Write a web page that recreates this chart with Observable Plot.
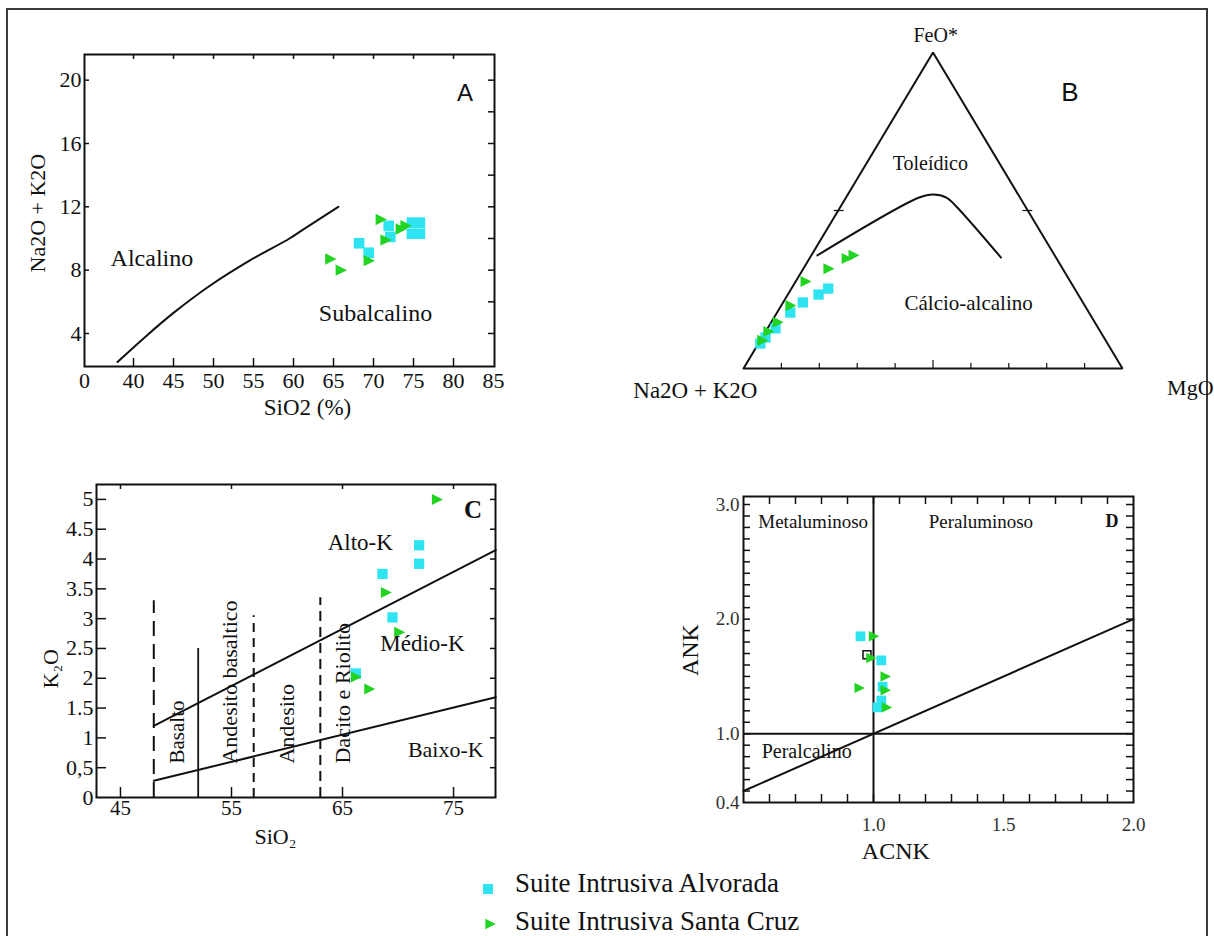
<!DOCTYPE html>
<html>
<head>
<meta charset="utf-8">
<script src="https://cdn.jsdelivr.net/npm/d3@7"></script>
<script src="https://cdn.jsdelivr.net/npm/@observablehq/plot@0.6"></script>
<style>
  body { margin: 0; background: #fff; }
  #fig { position: relative; width: 1214px; height: 936px; overflow: hidden; background: #fff; }
  #border { position: absolute; left: 6px; top: 8px; width: 1202px; height: 1000px; border: 2px solid #3a3a3a; box-sizing: border-box; }
  #fig svg.serif text { font-family: "Liberation Serif", "Times New Roman", serif; }
  #fig svg.sansfont text { font-family: "Liberation Sans", Arial, sans-serif; }
</style>
</head>
<body>
<div id="fig"><div id="border"></div></div>
<script>
// ---------------- DATA ----------------
const seriesNames = ["Suite Intrusiva Alvorada", "Suite Intrusiva Santa Cruz"];

// Panel A: SiO2 vs Na2O+K2O
const aBoundarySiO2 = [38.0, 41.5, 45.0, 49.5, 54.5, 59.5, 61.0, 65.6];
const aBoundaryAlk  = [2.2, 3.8, 5.3, 7.0, 8.6, 10.0, 10.5, 12.0];
const aAlvoradaSiO2 = [68.2, 69.4, 71.9, 72.1, 74.8, 75.8, 74.8, 75.8];
const aAlvoradaAlk  = [9.7, 9.1, 10.8, 10.1, 11.0, 11.0, 10.3, 10.3];
const aSantaCruzSiO2 = [64.6, 65.9, 69.4, 70.9, 71.5, 73.4, 74.0];
const aSantaCruzAlk  = [8.7, 8.0, 8.6, 11.2, 9.9, 10.6, 10.8];
const aXTicks = [40, 45, 50, 55, 60, 65, 70, 75, 80, 85];
const aYTicks = [4, 8, 12, 16, 20];
const aRightTicks = [4, 6, 8, 10, 12, 14, 16, 18, 20];
const aRegions = ["Alcalino", "Subalcalino"];

// Panel B: AFM ternary (percent Na2O+K2O, FeO*, MgO)
const bAlvoradaA = [65.0, 68.5, 73.9, 78.8, 85.2, 89.3, 91.6];
const bAlvoradaF = [25.3, 23.4, 20.9, 17.7, 12.7, 9.8, 7.9];
const bAlvoradaM = [9.7, 8.1, 5.2, 3.5, 2.1, 0.9, 0.5];
const bSantaCruzA = [53.1, 55.4, 61.8, 69.9, 77.7, 83.7, 87.6, 90.6];
const bSantaCruzF = [35.8, 34.8, 31.6, 27.5, 19.9, 14.6, 11.7, 8.9];
const bSantaCruzM = [11.1, 9.8, 6.6, 2.6, 2.4, 1.7, 0.7, 0.5];
const bBoundaryA = [62.6, 26.6, 22.4, 19.4, 18.3, 14.5];
const bBoundaryF = [35.8, 54.1, 55.1, 54.1, 51.6, 35.1];
const bBoundaryM = [1.6, 19.3, 22.5, 26.5, 30.1, 50.4];
const bTriangleA = [100, 0, 0, 100];
const bTriangleF = [0, 0, 100, 0];
const bTriangleM = [0, 100, 0, 0];
const bBaseTicks = [10, 20, 30, 40, 50, 60, 70, 80, 90];
const bVertices = ["Na2O + K2O", "FeO*", "MgO"];
const bRegions = ["Toleídico", "Cálcio-alcalino"];

// Panel C: SiO2 vs K2O
const cUpperSiO2 = [48, 78.8], cUpperK2O = [1.2, 4.15];
const cLowerSiO2 = [48, 78.8], cLowerK2O = [0.28, 1.68];
const cDividerSiO2 = [48, 52, 57, 63];
const cDividerTop  = [3.3, 2.5, 3.05, 3.35];
const cRockNames = ["Basalto", "Andesito basaltico", "Andesito", "Dacito e Riolito"];
const cAlvoradaSiO2 = [71.9, 71.9, 68.6, 69.5, 66.2];
const cAlvoradaK2O  = [4.23, 3.92, 3.75, 3.02, 2.08];
const cSantaCruzSiO2 = [73.5, 68.9, 70.1, 66.2, 67.4];
const cSantaCruzK2O  = [5.0, 3.44, 2.77, 2.02, 1.82];
const cXTicks = [45, 55, 65, 75];
const cYTicks = [0, 0.5, 1, 1.5, 2, 2.5, 3, 3.5, 4, 4.5, 5];
const cYTickLabels = ["0", "0,5", "1", "1.5", "2", "2.5", "3", "3.5", "4", "4.5", "5"];
const cRegions = ["Alto-K", "Médio-K", "Baixo-K"];

// Panel D: ACNK vs ANK
const dDiagonalACNK = [0.5, 2.0], dDiagonalANK = [0.5, 2.0];
const dAlvoradaACNK = [0.95, 1.03, 1.035, 1.03, 1.015];
const dAlvoradaANK  = [1.85, 1.64, 1.41, 1.29, 1.23];
const dSantaCruzACNK = [1.0, 0.99, 1.045, 1.045, 0.945, 1.05];
const dSantaCruzANK  = [1.85, 1.66, 1.50, 1.38, 1.40, 1.23];
const dOtherACNK = [0.975], dOtherANK = [1.69];
const dXTicks = [1.0, 1.5, 2.0];
const dYTicks = [0.4, 1.0, 2.0, 3.0];
const dRegions = ["Metaluminoso", "Peraluminoso", "Peralcalino"];

const panelLetters = ["A", "B", "C", "D"];

// ---------------- STYLE ----------------
const serif = '"Liberation Serif", "Times New Roman", serif';
const CYAN = "#2de4f0", GREEN = "#22d322", INK = "#111";

const triRight = {
  draw(ctx, size) {
    const r = Math.sqrt(size / Math.PI);
    ctx.moveTo(1.05 * r, 0);
    ctx.lineTo(-0.85 * r, -0.95 * r);
    ctx.lineTo(-0.85 * r, 0.95 * r);
    ctx.closePath();
  }
};

const fig = document.getElementById("fig");
function place(node, left, top) {
  const d = document.createElement("div");
  d.style.position = "absolute";
  d.style.left = left + "px";
  d.style.top = top + "px";
  d.appendChild(node);
  fig.appendChild(d);
}
function baseStyle(size) {
  return {fontFamily: serif, fontSize: size + "px", color: INK, background: "transparent", overflow: "visible", maxWidth: "none"};
}
function ticksX(vals, side, len, H, sw = 1.5) {
  const o = {x: d => d, stroke: INK, strokeWidth: sw};
  o[side === "bottom" ? "insetTop" : "insetBottom"] = H - len;
  return Plot.ruleX(vals, o);
}
function ticksY(vals, side, len, W, sw = 1.5) {
  const o = {y: d => d, stroke: INK, strokeWidth: sw};
  o[side === "left" ? "insetRight" : "insetLeft"] = W - len;
  return Plot.ruleY(vals, o);
}
function squares(xs, ys, r = 6) {
  return Plot.dot(xs, {x: xs, y: ys, symbol: "square", r, fill: CYAN, stroke: "none"});
}
function triangles(xs, ys, r = 6) {
  return Plot.dot(xs, {x: xs, y: ys, symbol: triRight, r, fill: GREEN, stroke: "none"});
}
function label(t, x, y, size, extra = {}) {
  return Plot.text([t], {x, y, fontSize: size, fill: INK, ...extra});
}
function serifPlot(opts) {
  const node = Plot.plot(opts);
  node.classList.add("serif");
  node.querySelectorAll("svg").forEach(s => s.classList.add("serif"));
  return node;
}

// ---------------- PANEL A ----------------
{
  const W = 410, H = 312;
  const xMin = 33.875;
  const svg = serifPlot({
    width: 510, height: 410, marginLeft: 84, marginRight: 16, marginTop: 24, marginBottom: 74,
    x: {domain: [xMin, 85.125]}, y: {domain: [1.915, 21.62]},
    style: baseStyle(22),
    marks: [
      Plot.axisX([xMin, ...aXTicks], {tickFormat: d => d === xMin ? "0" : String(d), tickSize: 0, tickPadding: 6, fontSize: 22, label: null}),
      Plot.axisY(aYTicks, {tickSize: 0, tickPadding: 3, fontSize: 22, label: null}),
      ticksX(aXTicks.slice(0, -1), "bottom", 8, H),
      ticksX(aXTicks.slice(0, -1), "top", 5, H),
      ticksY(aYTicks, "left", 5, W),
      ticksY(aRightTicks, "right", 6, W),
      Plot.frame({stroke: INK, strokeWidth: 2}),
      Plot.line(aBoundarySiO2, {x: aBoundarySiO2, y: aBoundaryAlk, stroke: INK, strokeWidth: 2, curve: "catmull-rom"}),
      squares(aAlvoradaSiO2, aAlvoradaAlk),
      triangles(aSantaCruzSiO2, aSantaCruzAlk),
      label(aRegions[0], 42.3, 8.74, 24),
      label(aRegions[1], 70.25, 5.26, 24),
      label("Na2O + K2O", 28.0, 11.6, 22, {rotate: -90}),
      label("SiO2 (%)", 61.75, -0.7, 23)
    ]
  });
  place(svg, 0, 30);
}

// ---------------- PANEL B ----------------
{
  const H = 316;
  const tx = (A, F, M) => A.map((_, i) => (M[i] + F[i] / 2) / (A[i] + F[i] + M[i]));
  const ty = (A, F, M) => A.map((_, i) => F[i] / (A[i] + F[i] + M[i]));
  const triX = tx(bTriangleA, bTriangleF, bTriangleM), triY = ty(bTriangleA, bTriangleF, bTriangleM);
  const curX = tx(bBoundaryA, bBoundaryF, bBoundaryM), curY = ty(bBoundaryA, bBoundaryF, bBoundaryM);
  const alvX = tx(bAlvoradaA, bAlvoradaF, bAlvoradaM), alvY = ty(bAlvoradaA, bAlvoradaF, bAlvoradaM);
  const scX = tx(bSantaCruzA, bSantaCruzF, bSantaCruzM), scY = ty(bSantaCruzA, bSantaCruzF, bSantaCruzM);
  const svg = serifPlot({
    width: 594, height: 400, marginLeft: 123, marginRight: 92, marginTop: 42, marginBottom: 42,
    x: {domain: [0, 1], axis: null}, y: {domain: [0, 1], axis: null},
    style: baseStyle(21),
    marks: [
      Plot.ruleX(bBaseTicks.filter(t => t !== 50), {x: t => t / 100, insetTop: H - 5, stroke: INK, strokeWidth: 1.2}),
      Plot.ruleX([50], {x: t => t / 100, insetTop: H - 8, stroke: INK, strokeWidth: 1.2}),
      Plot.link([50], {x1: f => f / 200 - 0.012, x2: f => f / 200 + 0.014, y1: f => f / 100, y2: f => f / 100, stroke: INK, strokeWidth: 1.2}),
      Plot.link([50], {x1: f => 1 - f / 200 - 0.014, x2: f => 1 - f / 200 + 0.012, y1: f => f / 100, y2: f => f / 100, stroke: INK, strokeWidth: 1.2}),
      Plot.line(triX, {x: triX, y: triY, stroke: INK, strokeWidth: 2, strokeLinejoin: "miter"}),
      Plot.line(curX, {x: curX, y: curY, stroke: INK, strokeWidth: 2, curve: "catmull-rom"}),
      squares(alvX, alvY, 5.8),
      triangles(scX, scY, 5.8),
      label(bVertices[1], 0.507, 1.054, 20),
      label(bVertices[0], -0.127, -0.07, 23),
      label(bVertices[2], 1.179, -0.063, 22),
      label(bRegions[0], 0.493, 0.649, 20),
      label(bRegions[1], 0.594, 0.206, 21)
    ]
  });
  place(svg, 620, 10);
}

// ---------------- PANEL C ----------------
{
  const W = 399, H = 313;
  const svg = serifPlot({
    width: 510, height: 410, marginLeft: 96, marginRight: 15, marginTop: 24, marginBottom: 73,
    x: {domain: [42.84, 78.78]}, y: {domain: [0, 5.25]},
    style: baseStyle(22),
    marks: [
      Plot.axisX(cXTicks, {tickSize: 0, tickPadding: 3, fontSize: 21, label: null}),
      Plot.axisY(cYTicks, {tickSize: 0, tickPadding: 3, fontSize: 22, tickFormat: d => cYTickLabels[cYTicks.indexOf(d)], label: null}),
      ticksX(cXTicks, "bottom", 10, H),
      ticksX(cXTicks, "top", 5, H),
      ticksY(cYTicks.slice(1), "left", 10, W),
      ticksY(cYTicks.slice(1), "right", 5, W),
      Plot.frame({stroke: INK, strokeWidth: 2}),
      Plot.ruleX([cDividerSiO2[0]], {x: d => d, y1: 0, y2: cDividerTop[0], stroke: INK, strokeWidth: 2, strokeDasharray: "15,8"}),
      Plot.ruleX([cDividerSiO2[1]], {x: d => d, y1: 0, y2: cDividerTop[1], stroke: INK, strokeWidth: 1.8}),
      Plot.ruleX([cDividerSiO2[2]], {x: d => d, y1: 0, y2: cDividerTop[2], stroke: INK, strokeWidth: 2, strokeDasharray: "9,6"}),
      Plot.ruleX([cDividerSiO2[3]], {x: d => d, y1: 0, y2: cDividerTop[3], stroke: INK, strokeWidth: 2, strokeDasharray: "10,6"}),
      Plot.line(cUpperSiO2, {x: cUpperSiO2, y: cUpperK2O, stroke: INK, strokeWidth: 2}),
      Plot.line(cLowerSiO2, {x: cLowerSiO2, y: cLowerK2O, stroke: INK, strokeWidth: 2}),
      label(cRockNames[0], 50.1, 0.57, 21, {rotate: -90, textAnchor: "start"}),
      label(cRockNames[1], 54.9, 0.57, 22, {rotate: -90, textAnchor: "start"}),
      label(cRockNames[2], 60.0, 0.57, 22, {rotate: -90, textAnchor: "start"}),
      label(cRockNames[3], 65.0, 0.57, 22, {rotate: -90, textAnchor: "start"}),
      squares(cAlvoradaSiO2, cAlvoradaK2O, 5.8),
      triangles(cSantaCruzSiO2, cSantaCruzK2O, 5.8),
      label(cRegions[0], 66.6, 4.28, 23),
      label(cRegions[1], 72.2, 2.58, 23),
      label(cRegions[2], 74.3, 0.79, 22),
      label(panelLetters[2], 76.76, 4.83, 25, {fontWeight: "bold"}),
      label("K₂O", 38.7, 2.16, 22, {rotate: -90}),
      label("SiO₂", 58.96, -0.67, 22)
    ]
  });
  place(svg, 0, 460);
}

// ---------------- PANEL D ----------------
{
  const W = 390, H = 306;
  const minorX = d3.range(6, 20).map(v => v / 10);
  const minorY = d3.range(5, 31).map(v => v / 10);
  const svg = serifPlot({
    width: 560, height: 400, marginLeft: 93, marginRight: 77, marginTop: 26, marginBottom: 68,
    x: {domain: [0.5, 2.0]}, y: {domain: [0.4, 3.07]},
    style: baseStyle(19),
    marks: [
      Plot.axisX(dXTicks, {tickSize: 0, tickPadding: 15, tickFormat: d => d.toFixed(1), fill: "#333", fontSize: 19, label: null}),
      Plot.axisY(dYTicks, {tickSize: 0, tickPadding: 4, tickFormat: d => d.toFixed(1), fill: "#333", fontSize: 19, label: null}),
      ticksX(minorX, "bottom", 8, H),
      ticksX(minorX, "top", 8, H),
      ticksY(minorY, "left", 7, W),
      ticksY(minorY, "right", 7, W),
      Plot.frame({stroke: INK, strokeWidth: 2}),
      Plot.ruleX([1.0], {x: d => d, stroke: INK, strokeWidth: 2}),
      Plot.ruleY([1.0], {y: d => d, stroke: INK, strokeWidth: 1.8}),
      Plot.line(dDiagonalACNK, {x: dDiagonalACNK, y: dDiagonalANK, stroke: INK, strokeWidth: 2}),
      squares(dAlvoradaACNK, dAlvoradaANK, 5.5),
      Plot.dot(dOtherACNK, {x: dOtherACNK, y: dOtherANK, symbol: "square", r: 4.5, fill: "none", stroke: INK, strokeWidth: 1.5}),
      triangles(dSantaCruzACNK, dSantaCruzANK, 5.5),
      label(dRegions[0], 0.768, 2.85, 19),
      label(dRegions[1], 1.413, 2.85, 19),
      label(dRegions[2], 0.743, 0.84, 20),
      label(panelLetters[3], 1.917, 2.85, 18, {fontWeight: "bold"}),
      label("ANK", 0.296, 1.73, 24, {rotate: -90}),
      label("ACNK", 1.086, -0.025, 24)
    ]
  });
  place(svg, 650, 470);
}

// ---------------- SANS PANEL LETTERS (A, B) ----------------
{
  const svg = d3.create("svg").attr("width", 1214).attr("height", 140).attr("class", "sansfont")
    .style("overflow", "visible");
  svg.append("text").attr("x", 465).attr("y", 93).attr("text-anchor", "middle").attr("dy", "0.35em")
    .attr("font-size", 24).attr("fill", INK).text(panelLetters[0]);
  svg.append("text").attr("x", 1070).attr("y", 92).attr("text-anchor", "middle").attr("dy", "0.35em")
    .attr("font-size", 26).attr("fill", INK).text(panelLetters[1]);
  place(svg.node(), 0, 0);
}

// ---------------- LEGEND ----------------
{
  const svg = d3.create("svg").attr("width", 400).attr("height", 76).attr("class", "serif")
    .style("overflow", "visible");
  const sq = d3.symbol(d3.symbolSquare, 100)();
  const tr = d3.symbol(triRight, Math.PI * 30)();
  svg.append("path").attr("d", sq).attr("transform", "translate(28,29)").attr("fill", CYAN);
  svg.append("path").attr("d", tr).attr("transform", "translate(30,64)").attr("fill", GREEN);
  svg.append("text").attr("x", 55).attr("y", 32).attr("font-size", 27).attr("fill", INK).text(seriesNames[0]);
  svg.append("text").attr("x", 55).attr("y", 70).attr("font-size", 27).attr("fill", INK).text(seriesNames[1]);
  place(svg.node(), 460, 860);
}
</script>
</body>
</html>
